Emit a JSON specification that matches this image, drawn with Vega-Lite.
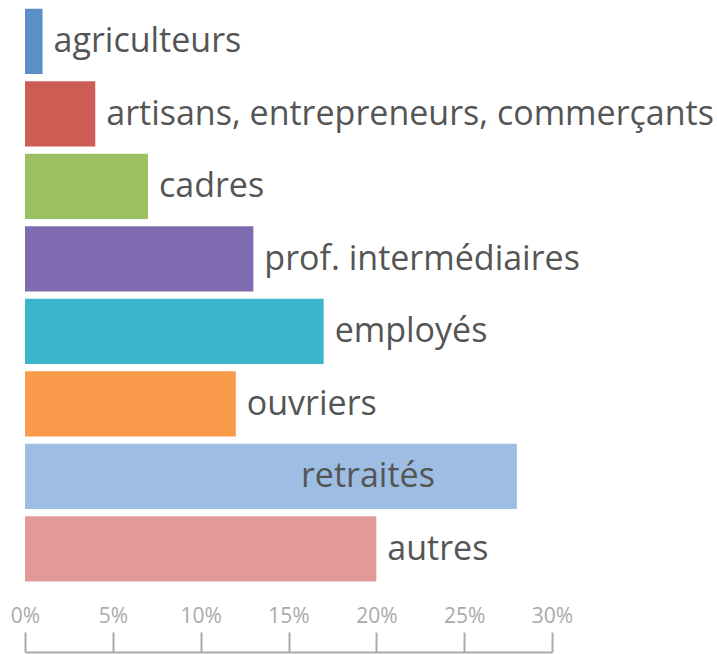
{
  "$schema": "https://vega.github.io/schema/vega-lite/v6.json",
  "width": 527,
  "height": 580,
  "autosize": "none",
  "padding": {"left": 25, "top": 5, "right": 165, "bottom": 69},
  "background": "white",
  "config": {"view": {"stroke": null}},
  "data": {
    "values": [
      {"categorie": "agriculteurs", "part": 1},
      {"categorie": "artisans, entrepreneurs, commerçants", "part": 4},
      {"categorie": "cadres", "part": 7},
      {"categorie": "prof. intermédiaires", "part": 13},
      {"categorie": "employés", "part": 17},
      {"categorie": "ouvriers", "part": 12},
      {"categorie": "retraités", "part": 28},
      {"categorie": "autres", "part": 20}
    ]
  },
  "encoding": {
    "y": {
      "field": "categorie",
      "type": "nominal",
      "sort": null,
      "axis": null,
      "scale": {"paddingInner": 0.1, "paddingOuter": 0.05}
    },
    "x": {
      "field": "part",
      "type": "quantitative",
      "scale": {"domain": [0, 30], "nice": false},
      "axis": {
        "title": null,
        "values": [0, 5, 10, 15, 20, 25, 30],
        "labelExpr": "datum.value + '%'",
        "grid": false,
        "offset": 67,
        "tickSize": -20,
        "tickWidth": 2,
        "tickColor": "#aaaaaa",
        "domainColor": "#aaaaaa",
        "domainWidth": 2,
        "labelColor": "#aaaaaa",
        "labelFont": "Open Sans",
        "labelFontSize": 21,
        "labelBaseline": "alphabetic",
        "labelPadding": -10,
        "labelFlush": false,
        "labelOverlap": false
      }
    }
  },
  "layer": [
    {
      "mark": {"type": "bar"},
      "encoding": {
        "color": {
          "field": "categorie",
          "type": "nominal",
          "legend": null,
          "scale": {
            "domain": ["agriculteurs", "artisans, entrepreneurs, commerçants", "cadres", "prof. intermédiaires", "employés", "ouvriers", "retraités", "autres"],
            "range": ["#5b8fc7", "#cd5c55", "#9bc062", "#7f6bb0", "#3bb5cc", "#f99b4a", "#9dbde3", "#e19a98"]
          }
        }
      }
    },
    {
      "transform": [{"filter": "datum.categorie != 'retraités'"}],
      "mark": {"type": "text", "align": "left", "baseline": "middle", "dx": 11, "dy": 1, "font": "Open Sans", "fontSize": 34, "color": "#555555"},
      "encoding": {"text": {"field": "categorie"}}
    },
    {
      "transform": [{"filter": "datum.categorie == 'retraités'"}],
      "mark": {"type": "text", "align": "right", "baseline": "middle", "dx": -82, "dy": 1, "font": "Open Sans", "fontSize": 34, "color": "#555555"},
      "encoding": {"text": {"field": "categorie"}}
    }
  ]
}
